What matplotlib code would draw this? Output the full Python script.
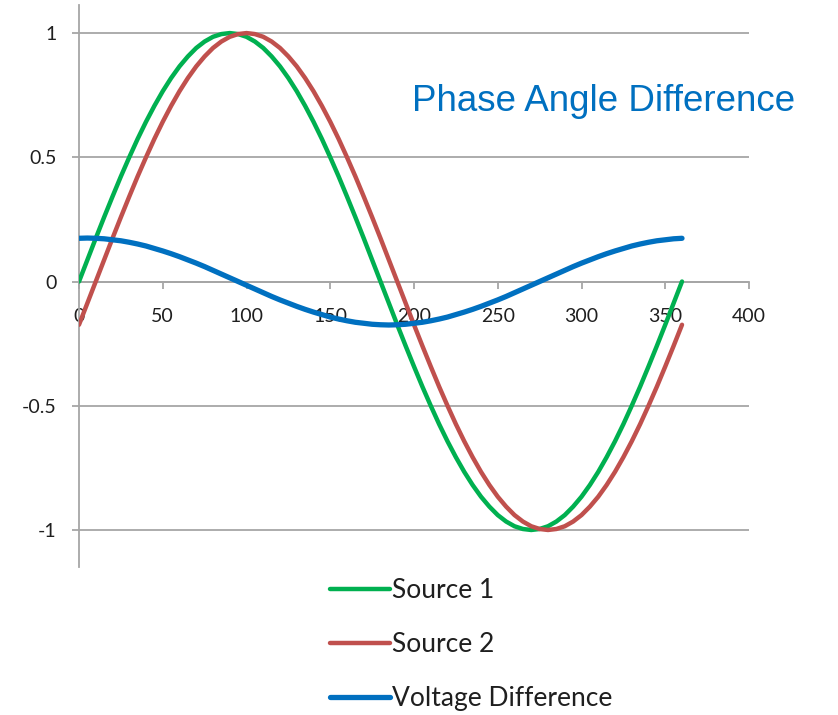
import numpy as np
from matplotlib import pyplot as plt

# angle in degrees, 5 degree steps
angle = [0, 5, 10, 15, 20, 25, 30, 35, 40, 45, 50, 55, 60, 65, 70, 75, 80, 85, 90,
         95, 100, 105, 110, 115, 120, 125, 130, 135, 140, 145, 150, 155, 160, 165, 170, 175, 180,
         185, 190, 195, 200, 205, 210, 215, 220, 225, 230, 235, 240, 245, 250, 255, 260, 265, 270,
         275, 280, 285, 290, 295, 300, 305, 310, 315, 320, 325, 330, 335, 340, 345, 350, 355, 360]
source1 = [0.0, 0.087, 0.174, 0.259, 0.342, 0.423, 0.5, 0.574, 0.643, 0.707, 0.766, 0.819, 0.866,
           0.906, 0.940, 0.966, 0.985, 0.996, 1.0,
           0.996, 0.985, 0.966, 0.940, 0.906, 0.866, 0.819, 0.766, 0.707, 0.643, 0.574, 0.5,
           0.423, 0.342, 0.259, 0.174, 0.087, 0.0,
           -0.087, -0.174, -0.259, -0.342, -0.423, -0.5, -0.574, -0.643, -0.707, -0.766, -0.819,
           -0.866, -0.906, -0.940, -0.966, -0.985, -0.996, -1.0,
           -0.996, -0.985, -0.966, -0.940, -0.906, -0.866, -0.819, -0.766, -0.707, -0.643, -0.574,
           -0.5, -0.423, -0.342, -0.259, -0.174, -0.087, 0.0]
source2 = [-0.174, -0.087, 0.0, 0.087, 0.174, 0.259, 0.342, 0.423, 0.5, 0.574, 0.643, 0.707, 0.766,
           0.819, 0.866, 0.906, 0.940, 0.966, 0.985,
           0.996, 1.0, 0.996, 0.985, 0.966, 0.940, 0.906, 0.866, 0.819, 0.766, 0.707, 0.643,
           0.574, 0.5, 0.423, 0.342, 0.259, 0.174,
           0.087, 0.0, -0.087, -0.174, -0.259, -0.342, -0.423, -0.5, -0.574, -0.643, -0.707,
           -0.766, -0.819, -0.866, -0.906, -0.940, -0.966, -0.985,
           -0.996, -1.0, -0.996, -0.985, -0.966, -0.940, -0.906, -0.866, -0.819, -0.766, -0.707,
           -0.643, -0.574, -0.5, -0.423, -0.342, -0.259, -0.174]
vdiff = [0.174, 0.175, 0.174, 0.172, 0.168, 0.164, 0.158, 0.151, 0.143, 0.133, 0.123, 0.112, 0.100,
         0.087, 0.074, 0.060, 0.045, 0.030, 0.015,
         0.000, -0.015, -0.030, -0.045, -0.060, -0.074, -0.087, -0.100, -0.112, -0.123, -0.133,
         -0.143, -0.151, -0.158, -0.164, -0.168, -0.172, -0.174,
         -0.175, -0.174, -0.172, -0.168, -0.164, -0.158, -0.151, -0.143, -0.133, -0.123, -0.112,
         -0.100, -0.087, -0.074, -0.060, -0.045, -0.030, -0.015,
         0.000, 0.015, 0.030, 0.045, 0.060, 0.074, 0.087, 0.100, 0.112, 0.123, 0.133,
         0.143, 0.151, 0.158, 0.164, 0.168, 0.172, 0.174]
labels = ['Source 1', 'Source 2', 'Voltage Difference']
x_ticks = [0, 50, 100, 150, 200, 250, 300, 350, 400]
y_ticks = [-1, -0.5, 0, 0.5, 1]
y_tick_labels = ['-1', '-0.5', '0', '0.5', '1']

plt.rcParams['font.family'] = ['Lato', 'DejaVu Sans']
grey = '#a6a6a6'
txt = '#1f1f1f'

fig = plt.figure(figsize=(8.38, 7.15), dpi=100)
ax = fig.add_axes([79 / 838, 1 - 567 / 715, 670 / 838, 562 / 715])

ax.plot(angle, source1, color='#00b050', lw=3.2, label=labels[0], solid_capstyle='round', zorder=3)
ax.plot(angle, source2, color='#c0504d', lw=3.2, label=labels[1], solid_capstyle='round', zorder=3)
ax.plot(angle, vdiff, color='#0070c0', lw=3.8, label=labels[2], solid_capstyle='round', zorder=4)

ax.set_xlim(0, 400)
ax.set_ylim(-1.149, 1.113)
ax.set_xticks(x_ticks)
ax.set_xticklabels([str(t) for t in x_ticks])
ax.set_yticks(y_ticks)
ax.set_yticklabels(y_tick_labels)

# excel style: horizontal axis crosses at zero
ax.spines['bottom'].set_position(('data', 0))
ax.spines['top'].set_visible(False)
ax.spines['right'].set_visible(False)
for s in ('left', 'bottom'):
    ax.spines[s].set_color(grey)
    ax.spines[s].set_linewidth(1.3)
ax.yaxis.grid(True, color=grey, lw=1.3)
ax.set_axisbelow(True)
ax.tick_params(axis='x', direction='out', length=5, width=1.3, color=grey,
               pad=14, labelsize=14, labelcolor=txt)
ax.tick_params(axis='y', direction='out', length=5, width=1.3, color=grey,
               pad=11, labelsize=14, labelcolor=txt)

fig.text(412 / 838, 1 - 111 / 715, 'Phase Angle Difference', color='#0070c0',
         fontsize=26.5, family='Liberation Sans', ha='left', va='baseline')

fig.legend(loc='upper left', bbox_to_anchor=(330 / 838, 1 - 578 / 715), frameon=False,
           fontsize=19, handlelength=2.27, handletextpad=0.08, labelspacing=1.1,
           borderpad=0, borderaxespad=0, labelcolor=txt)

fig.savefig('out.png', dpi=100)
